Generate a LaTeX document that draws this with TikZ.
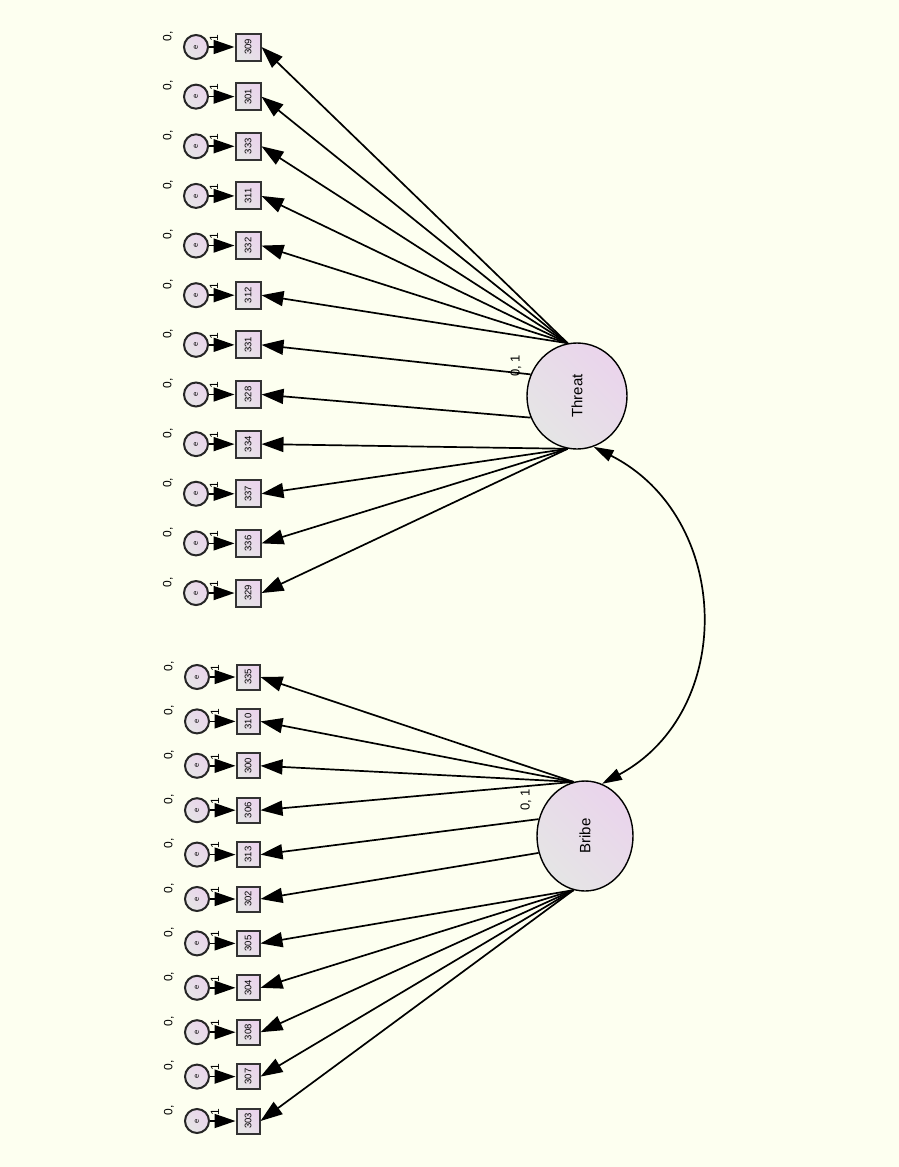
\documentclass[tikz,border=0pt]{standalone}
\usepackage{fontspec}
\setmainfont{Liberation Sans}
\usetikzlibrary{shapes.geometric,arrows.meta}
\definecolor{bgc}{RGB}{253,255,240}
\definecolor{pinkc}{RGB}{234,212,236}
\definecolor{greyc}{RGB}{229,229,229}
\tikzset{
 latent/.style={ellipse, draw=black, line width=1.4pt, top color=pinkc, bottom color=greyc, shading angle=-45, inner sep=0pt},
 obs/.style={rectangle, draw=black!80, line width=2pt, top color=pinkc, bottom color=greyc, shading angle=-45, inner sep=0pt},
 err/.style={circle, draw=black!85, line width=2pt, top color=pinkc, bottom color=greyc, shading angle=-45, inner sep=0pt, minimum size=24pt},
 reg/.style={line width=1.7pt, -{Triangle[length=22pt,width=15pt]}},
 erra/.style={line width=1.7pt, -{Triangle[length=21pt,width=14pt]}},
 cov/.style={line width=1.7pt, {Triangle[length=20pt,width=12pt]}-{Triangle[length=20pt,width=12pt]}},
 vtxt/.style={rotate=90, inner sep=0pt},
 boxfont/.style={font=\fontsize{9.5}{9.5}\selectfont},
 efont/.style={font=\fontsize{7.5}{7.5}\selectfont},
 smallfont/.style={font=\fontsize{12}{12}\selectfont},
 latfont/.style={font=\fontsize{15}{15}\selectfont},
 parfont/.style={font=\fontsize{13}{13}\selectfont},
}
\begin{document}
\begin{tikzpicture}[x=1pt,y=-1pt]
\fill[bgc] (0,0) rectangle (899,1167);
\useasboundingbox (0,0) rectangle (899,1167);
% latent variables
\node[latent, minimum width=100pt, minimum height=106pt] (T) at (577,396) {};
\node[vtxt, latfont] (Tl) at (T) {Threat};
\node[latent, minimum width=96pt, minimum height=110pt] (B) at (585,836) {};
\node[vtxt, latfont] (Bl) at (B) {Bribe};
\node[vtxt, parfont] (Tp) at (516,366) {0, 1};
\node[vtxt, parfont] (Bp) at (526,800) {0, 1};
% Threat indicators
\foreach \lab [count=\i from 0] in {309,301,333,311,332,312,331,328,334,337,336,329} {
  \pgfmathsetmacro\yy{47+49.64*\i}
  \node[obs, minimum width=25pt, minimum height=27pt] (tx\i) at (248,\yy) {};
  \node[vtxt, boxfont] (tl\i) at (tx\i) {\lab};
  \node[err] (te\i) at (196,\yy) {};
  \node[vtxt, efont] (tel\i) at (te\i) {e};
  \draw[erra] (te\i) -- (tx\i);
  \node[vtxt, smallfont] (tz\i) at (168,\yy-11) {0,};
  \node[vtxt, smallfont] (to\i) at (214,\yy-9) {1};
}
\foreach \i in {0,...,5} { \draw[reg] (T.100) -- (tx\i.east); }
\draw[reg] (T.155) -- (tx6.east);
\draw[reg] (T.205) -- (tx7.east);
\foreach \i in {8,...,11} { \draw[reg] (T.260) -- (tx\i.east); }
% Bribe indicators
\foreach \lab [count=\i from 0] in {335,310,300,306,313,302,305,304,308,307,303} {
  \pgfmathsetmacro\yy{677+44.4*\i}
  \node[obs, minimum width=23pt, minimum height=25pt] (bx\i) at (248,\yy) {};
  \node[vtxt, boxfont] (bl\i) at (bx\i) {\lab};
  \node[err] (be\i) at (197,\yy) {};
  \node[vtxt, efont] (bel\i) at (be\i) {e};
  \draw[erra] (be\i) -- (bx\i);
  \node[vtxt, smallfont] (bz\i) at (169,\yy-11) {0,};
  \node[vtxt, smallfont] (bo\i) at (215,\yy-9) {1};
}
\foreach \i in {0,...,3} { \draw[reg] (B.102) -- (bx\i.east); }
\draw[reg] (B.160) -- (bx4.east);
\draw[reg] (B.200) -- (bx5.east);
\foreach \i in {6,...,10} { \draw[reg] (B.258) -- (bx\i.east); }
% covariance
\draw[cov] (T.-72) .. controls (732,517) and (737,711) .. (B.72);
\end{tikzpicture}
\end{document}
